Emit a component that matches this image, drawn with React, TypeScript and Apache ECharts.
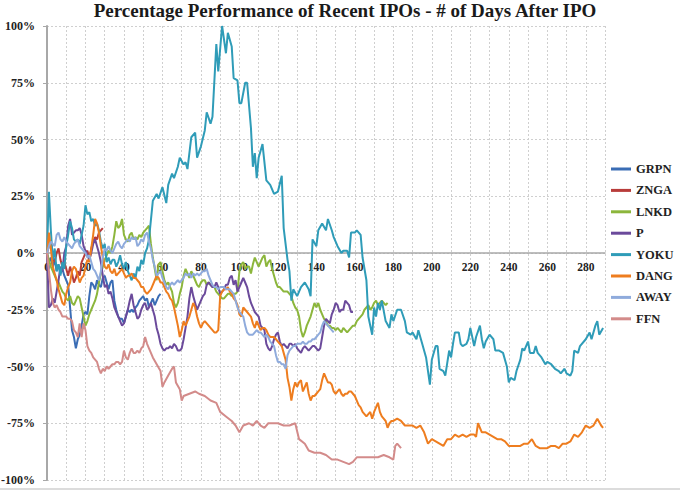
import React, { useEffect, useRef } from "react";
import * as echarts from "echarts";

const TITLE = "Percentage Performance of Recent IPOs - # of Days After IPO";
const SERIES_NAMES = ["GRPN", "ZNGA", "LNKD", "P", "YOKU", "DANG", "AWAY", "FFN"];
const COLORS = ["#3a6db5", "#b83c3a", "#8cb63c", "#6b4a9b", "#2f9cb8", "#ee7d1f", "#8fabdc", "#d38b8a"];
const X_MAX = 290;
const Y_TICKS = [-100, -75, -50, -25, 0, 25, 50, 75, 100];

type P = [number, number];

const GRPN: P[] = [[0,0],[1,-4],[2,-2],[3,-6],[4,-3],[5,-8],[6,-5],[7,-9],[8,-7],[9,-10],[10,-12],[11,-14],[12,-24],[13,-34],[14,-37],[15,-42],[16,-38],[17,-36],[18,-32],[19,-27],[20,-26],[21,-27],[22,-19],[23,-13],[24,-14],[25,-16],[26,-12],[27,-14],[28,-15],[29,-11],[30,-10],[31,-13],[32,-16],[33,-13],[34,-12],[35,-21],[36,-25],[37,-28],[38,-29],[39,-29],[40,-31],[41,-28],[42,-25],[43,-26],[44,-25],[45,-26],[46,-24],[47,-23],[48,-21],[49,-20],[50,-19],[51,-21],[52,-20],[53,-24],[54,-22],[55,-20],[56,-23],[57,-21],[58,-19],[59,-18]];

const ZNGA: P[] = [[0,0],[1,3],[2,5],[3,-2],[4,-4],[5,0],[6,2],[7,-3],[8,-6],[9,-4],[10,-7],[11,-10],[12,-6],[13,-9],[14,-13],[15,-11],[16,-8],[17,-10],[18,-4],[19,-2],[20,0],[21,1],[22,-3],[23,2],[24,5],[25,7],[26,6],[27,9],[28,10],[29,11]];

const LNKD: P[] = [[0,0],[1,-3],[2,-6],[3,-8],[4,-10],[5,-12],[6,-13],[7,-15],[8,-17],[9,-18],[10,-20],[11,-21],[12,-19],[13,-22],[14,-23],[15,-21],[16,-19],[17,-20],[18,-24],[19,-28],[20,-32],[21,-30],[22,-27],[23,-25],[24,-23],[25,-21],[26,-18],[27,-13],[28,-9],[29,-6],[30,-3],[31,-1],[32,1],[33,0],[34,3],[35,8],[36,14],[37,11],[38,12],[39,15],[40,8],[41,6],[42,5],[43,8],[44,9],[45,6],[46,7],[47,6],[48,8],[49,7],[50,9],[51,10],[52,11],[53,12],[54,4],[55,-2],[56,-7],[57,-12],[58,-5],[59,-4],[60,-8],[61,-12],[62,-14],[63,-13],[64,-15],[65,-17],[66,-22],[67,-24],[68,-22],[69,-18],[70,-15],[71,-10],[72,-7],[73,-9],[74,-11],[75,-8],[76,-10],[77,-12],[78,-14],[79,-15],[80,-13],[81,-12],[82,-12],[83,-14],[84,-13],[85,-14],[86,-15],[87,-15],[88,-17],[89,-18],[90,-19],[91,-20],[92,-20],[93,-19],[94,-18],[95,-18],[96,-19],[97,-18],[98,-18],[99,-17],[100,-8],[101,-5],[102,-4],[103,-7],[104,-6],[105,-6],[106,-9],[107,-5],[108,-2],[109,-4],[110,-6],[111,-4],[112,-2],[113,-1],[114,-6],[115,-4],[116,-3],[117,-7],[118,-10],[119,-13],[120,-15],[121,-15],[122,-16],[123,-17],[124,-17],[125,-17],[126,-18],[127,-19],[128,-22],[129,-24],[130,-25],[131,-28],[132,-34],[133,-37],[134,-35],[135,-32],[136,-30],[137,-28],[138,-25],[139,-22],[140,-24],[141,-22],[142,-25],[143,-27],[144,-29],[145,-30],[146,-32],[147,-32],[148,-33],[149,-33],[150,-34],[151,-33],[152,-34],[153,-35],[154,-33],[155,-34],[156,-35],[157,-34],[158,-33],[159,-32],[160,-32],[161,-30],[162,-29],[163,-28],[164,-27],[165,-25],[166,-24],[167,-23],[168,-25],[169,-24],[170,-22],[171,-21],[172,-23],[173,-22],[174,-21],[175,-22],[176,-23],[177,-22]];

const PNDR: P[] = [[0,0],[1,-24],[2,-23],[3,-20],[4,-22],[5,-17],[6,-12],[7,-6],[8,-8],[9,0],[10,3],[11,12],[12,15],[13,8],[14,9],[15,10],[16,10],[17,11],[18,8],[19,3],[20,1],[21,-1],[22,-3],[23,0],[24,4],[25,6],[26,3],[27,0],[28,-4],[29,-10],[30,-15],[31,-14],[32,-18],[33,-17],[34,-20],[35,-24],[36,-26],[37,-28],[38,-30],[39,-32],[40,-31],[41,-28],[42,-25],[43,-21],[44,-18],[45,-23],[46,-26],[47,-29],[48,-28],[49,-25],[50,-23],[51,-22],[52,-25],[53,-24],[54,-22],[55,-25],[56,-28],[57,-33],[58,-36],[59,-40],[60,-42],[61,-43],[62,-42],[63,-42],[64,-41],[65,-42],[66,-40],[67,-41],[68,-43],[69,-43],[70,-42],[71,-38],[72,-33],[73,-28],[74,-20],[75,-15],[76,-19],[77,-22],[78,-25],[79,-23],[80,-21],[81,-19],[82,-18],[83,-14],[84,-13],[85,-14],[86,-15],[87,-15],[88,-13],[89,-15],[90,-18],[91,-17],[92,-16],[93,-14],[94,-14],[95,-11],[96,-10],[97,-14],[98,-12],[99,-17],[100,-15],[101,-13],[102,-11],[103,-13],[104,-15],[105,-19],[106,-22],[107,-24],[108,-26],[109,-27],[110,-28],[111,-32],[112,-33],[113,-34],[114,-40],[115,-42],[116,-43],[117,-41],[118,-38],[119,-36],[120,-35],[121,-39],[122,-41],[123,-40],[124,-41],[125,-42],[126,-40],[127,-40],[128,-41],[129,-40],[130,-42],[131,-43],[132,-44],[133,-42],[134,-41],[135,-42],[136,-43],[137,-42],[138,-41],[139,-41],[140,-42],[141,-43],[142,-42],[143,-37],[144,-32],[145,-29],[146,-30],[147,-31],[148,-27],[149,-25],[150,-22],[151,-23],[152,-26],[153,-25],[154,-25],[155,-21],[156,-22],[157,-23],[158,-26],[159,-26]];

const YOKU: P[] = [[0,0],[1,27],[2,10],[3,-3],[4,2],[5,-8],[6,-5],[7,-10],[8,-4],[9,-7],[10,3],[11,8],[12,14],[13,11],[14,6],[15,5],[16,6],[17,4],[18,8],[19,12],[20,21],[21,17],[22,18],[23,14],[24,15],[25,12],[26,13],[27,10],[28,5],[29,2],[30,4],[31,-4],[32,-2],[33,-5],[34,-3],[35,-3],[36,-6],[37,-4],[38,-1],[39,-5],[40,-7],[41,-4],[42,-8],[43,-10],[44,-12],[45,-9],[46,-11],[47,-6],[48,-8],[49,-3],[50,-5],[51,0],[52,2],[53,6],[55,23],[57,26],[58,24],[60,29],[62,22],[63,30],[65,35],[66,33],[68,38],[69,42],[71,39],[72,40],[73,37],[75,51],[77,53],[78,42],[80,47],[82,54],[83,62],[85,57],[86,60],[88,92],[89,80],[91,100],[93,88],[94,97],[96,91],[97,77],[99,76],[100,66],[101,66],[103,75],[104,75],[106,55],[107,38],[108,44],[109,33],[110,42],[112,48],[114,32],[116,30],[118,26],[120,27],[122,34],[123,11],[125,-3],[126,-8],[127,-21],[128,-16],[130,-19],[132,-15],[134,-13],[136,-16],[137,-19],[138,6],[140,3],[141,10],[143,13],[145,10],[146,15],[148,10],[149,7],[151,3],[153,0],[154,1],[156,1],[157,-2],[158,9],[160,9],[161,10],[163,8],[164,-2],[166,-12],[167,-28],[169,-36],[170,-24],[171,-28],[172,-22],[173,-25],[174,-21],[176,-30],[178,-33],[179,-27],[180,-30],[182,-25],[184,-25],[186,-30],[187,-35],[189,-36],[190,-35],[192,-38],[193,-34],[195,-40],[197,-46],[199,-58],[200,-47],[202,-41],[203,-41],[204,-51],[206,-52],[207,-54],[209,-43],[210,-46],[211,-40],[212,-35],[214,-35],[215,-40],[216,-41],[218,-40],[219,-38],[220,-33],[222,-41],[223,-37],[225,-32],[226,-38],[227,-42],[228,-39],[230,-36],[232,-38],[233,-43],[235,-43],[237,-44],[239,-50],[240,-57],[241,-55],[243,-56],[244,-52],[246,-47],[247,-42],[248,-43],[250,-39],[251,-44],[253,-44],[254,-41],[255,-44],[257,-46],[259,-49],[260,-48],[262,-49],[264,-51],[266,-52],[267,-53],[269,-51],[270,-53],[272,-54],[273,-52],[274,-43],[276,-44],[277,-41],[280,-38],[282,-35],[283,-38],[285,-32],[286,-30],[287,-36],[289,-33]];

const DANG: P[] = [[0,0],[1,9],[2,2],[3,-6],[4,-9],[5,-12],[6,-16],[7,-19],[8,-22],[9,-23],[10,-18],[11,-15],[12,-13],[13,-8],[14,-6],[15,-7],[16,-10],[17,-13],[18,-11],[19,-10],[20,-6],[21,-3],[22,-4],[23,2],[24,8],[25,15],[26,13],[27,9],[28,3],[29,-2],[30,-6],[31,-7],[32,-5],[33,-8],[34,-9],[35,-7],[36,-10],[37,-9],[38,-8],[39,-7],[40,-9],[41,-11],[42,-10],[43,-10],[44,-9],[45,-11],[46,-11],[47,-12],[48,-13],[49,-15],[50,-15],[51,-17],[52,-18],[53,-17],[54,-16],[55,-14],[56,-12],[57,-10],[58,-11],[59,-13],[60,-13],[61,-15],[62,-17],[63,-18],[64,-20],[65,-21],[66,-24],[67,-28],[68,-32],[69,-37],[70,-34],[71,-30],[72,-32],[73,-30],[74,-28],[75,-25],[76,-22],[77,-24],[78,-28],[79,-31],[80,-33],[81,-31],[82,-30],[83,-31],[84,-32],[85,-33],[86,-34],[87,-35],[88,-35],[89,-34],[90,-19],[91,-17],[92,-16],[93,-16],[94,-15],[95,-17],[96,-18],[97,-20],[98,-21],[99,-23],[100,-27],[101,-28],[102,-24],[103,-25],[104,-26],[105,-27],[106,-28],[107,-31],[108,-33],[109,-30],[110,-32],[111,-34],[112,-33],[113,-33],[114,-34],[115,-36],[116,-37],[117,-37],[118,-37],[119,-38],[120,-39],[121,-40],[122,-41],[123,-44],[124,-47],[125,-55],[126,-59],[127,-65],[128,-60],[129,-57],[130,-59],[131,-57],[132,-56],[133,-61],[134,-59],[135,-57],[136,-62],[137,-65],[138,-63],[139,-63],[140,-62],[141,-61],[142,-60],[143,-56],[144,-53],[145,-55],[146,-57],[147,-57],[148,-58],[149,-61],[150,-62],[151,-61],[152,-60],[153,-62],[154,-63],[155,-62],[156,-62],[157,-61],[158,-61],[159,-62],[160,-63],[161,-65],[162,-67],[163,-68],[164,-70],[165,-71],[166,-72],[167,-71],[168,-70],[169,-73],[170,-70],[171,-68],[172,-66],[173,-70],[174,-72],[175,-73],[176,-74],[177,-77],[178,-75],[179,-74],[180,-74],[182,-73],[184,-74],[186,-76],[188,-76],[190,-76],[192,-77],[194,-76],[196,-79],[198,-84],[200,-82],[202,-83],[204,-84],[206,-85],[208,-82],[210,-82],[212,-80],[214,-81],[216,-80],[218,-81],[220,-80],[222,-80],[223,-81],[224,-75],[226,-79],[228,-79],[230,-80],[232,-81],[234,-82],[236,-82],[238,-83],[240,-85],[242,-85],[244,-85],[246,-85],[248,-84],[250,-84],[252,-82],[254,-85],[256,-86],[258,-86],[260,-86],[262,-85],[264,-85],[266,-86],[268,-84],[270,-84],[272,-83],[274,-80],[276,-81],[278,-79],[280,-76],[282,-77],[284,-76],[286,-73],[288,-76],[289,-77]];

const AWAY: P[] = [[0,0],[1,3],[2,5],[3,4],[4,3],[5,8],[6,9],[7,6],[8,5],[9,7],[10,5],[11,4],[12,3],[13,2],[14,4],[15,5],[16,6],[17,3],[18,2],[19,1],[20,0],[21,-2],[22,-1],[23,-4],[24,-7],[25,-8],[26,-10],[27,-12],[28,-8],[29,-2],[30,2],[31,1],[32,3],[33,1],[34,0],[35,2],[36,4],[37,5],[38,3],[39,2],[40,4],[41,5],[42,6],[43,5],[44,7],[45,6],[46,7],[47,3],[48,4],[49,6],[50,5],[51,8],[52,9],[53,5],[54,2],[55,-3],[56,-6],[57,-10],[58,-9],[59,-8],[60,-11],[61,-13],[62,-15],[63,-16],[64,-14],[65,-13],[66,-14],[67,-13],[68,-12],[69,-13],[70,-12],[71,-11],[72,-9],[73,-10],[74,-9],[75,-11],[76,-9],[77,-10],[78,-9],[79,-10],[80,-9],[81,-8],[82,-8],[83,-7],[84,-10],[85,-12],[86,-14],[87,-15],[88,-15],[89,-16],[90,-15],[91,-15],[92,-15],[93,-16],[94,-16],[95,-16],[96,-17],[97,-18],[98,-21],[99,-24],[100,-26],[101,-27],[102,-28],[103,-32],[104,-35],[105,-36],[106,-36],[107,-36],[108,-35],[109,-34],[110,-35],[111,-35],[112,-36],[113,-37],[114,-36],[115,-37],[116,-39],[117,-40],[118,-41],[119,-45],[120,-48],[121,-48],[122,-49],[123,-49],[124,-51],[125,-45],[126,-43],[127,-42],[128,-41],[129,-41],[130,-40],[131,-40],[132,-40],[133,-39],[134,-40],[135,-40],[136,-39],[137,-39],[138,-38],[139,-38],[140,-37],[141,-36],[142,-35],[143,-32],[144,-30],[145,-31],[146,-32],[147,-33],[148,-34],[149,-35]];

const FFN: P[] = [[0,0],[1,-8],[2,-16],[3,-22],[4,-24],[5,-23],[6,-25],[7,-26],[8,-28],[9,-28],[10,-28],[11,-29],[12,-29],[13,-30],[14,-34],[15,-35],[16,-37],[17,-31],[18,-37],[19,-31],[20,-34],[21,-41],[22,-43],[23,-44],[24,-46],[25,-47],[26,-48],[27,-51],[28,-53],[29,-51],[30,-52],[31,-50],[32,-51],[33,-50],[34,-49],[35,-49],[36,-48],[37,-48],[38,-49],[39,-48],[40,-43],[41,-46],[42,-47],[43,-44],[44,-42],[45,-44],[46,-44],[47,-43],[48,-44],[49,-42],[50,-41],[51,-37],[52,-40],[53,-42],[54,-44],[55,-46],[57,-49],[59,-52],[60,-59],[61,-57],[63,-54],[65,-51],[66,-50],[67,-57],[69,-60],[70,-65],[71,-63],[74,-62],[77,-61],[79,-62],[82,-63],[85,-65],[88,-66],[90,-70],[93,-72],[96,-74],[98,-76],[100,-79],[102,-76],[105,-75],[107,-76],[109,-74],[111,-76],[113,-77],[115,-75],[117,-75],[120,-75],[123,-76],[126,-76],[129,-75],[131,-82],[134,-84],[136,-87],[139,-88],[142,-88],[145,-89],[148,-91],[151,-91],[154,-92],[157,-93],[159,-92],[161,-90],[164,-90],[167,-90],[169,-90],[172,-90],[175,-89],[178,-90],[180,-91],[181,-85],[182,-84],[184,-86]];

const SERIES_DATA: P[][] = [GRPN, ZNGA, LNKD, PNDR, YOKU, DANG, AWAY, FFN];

const FONT = "'Liberation Serif', 'DejaVu Serif', serif";
const GRID_TOP = 26;
const GRID_BOTTOM = 13;
const CHART_H = 493;

export default function App() {
  const ref = useRef<HTMLDivElement>(null);
  useEffect(() => {
    if (!ref.current) return;
    const chart = echarts.init(ref.current, undefined, { renderer: "svg" });
    const gridH = CHART_H - GRID_TOP - GRID_BOTTOM;
    chart.setOption({
      animation: false,
      backgroundColor: "#ffffff",
      title: {
        text: TITLE,
        left: 345,
        textAlign: "center",
        top: 1,
        padding: 0,
        textStyle: { fontFamily: FONT, fontSize: 19, fontWeight: "bold", color: "#1a1a1a" },
      },
      legend: {
        orient: "vertical",
        left: 611,
        top: 162,
        padding: 0,
        icon: "rect",
        itemWidth: 20,
        itemHeight: 3,
        itemGap: 7.4,
        itemTextGap: 2,
        data: SERIES_NAMES,
        textStyle: { fontFamily: FONT, fontSize: 12.5, fontWeight: "bold", color: "#222", lineHeight: 14 },
      },
      grid: { left: 47, right: 75, top: GRID_TOP, bottom: GRID_BOTTOM, containLabel: false, outerBoundsMode: "none" },
      xAxis: {
        type: "value",
        min: 0,
        max: X_MAX,
        interval: 10,
        position: "bottom",
        offset: -gridH / 2,
        axisLine: { onZero: false, lineStyle: { color: "#a8a8a8", width: 1.5 } },
        axisTick: { show: false },
        axisLabel: {
          margin: 8,
          fontFamily: FONT,
          fontSize: 11.5,
          fontWeight: "bold",
          color: "#222",
          showMaxLabel: false,
          formatter: (v: number) => (v % 20 === 0 ? String(v) : ""),
        },
        splitLine: { show: true, lineStyle: { color: "#cfcfcf", type: [2, 2], width: 1 } },
      },
      yAxis: {
        type: "value",
        min: Y_TICKS[0],
        max: Y_TICKS[Y_TICKS.length - 1],
        interval: 25,
        axisLine: { show: true, lineStyle: { color: "#a8a8a8", width: 2 } },
        axisTick: { show: true, length: 4, lineStyle: { color: "#a8a8a8" } },
        axisLabel: {
          margin: 12,
          fontFamily: FONT,
          fontSize: 12,
          fontWeight: "bold",
          color: "#222",
          formatter: (v: number) => `${v}%`,
        },
        splitLine: { show: true, lineStyle: { color: "#cfcfcf", type: [2, 2], width: 1 } },
      },
      graphic: [
        { type: "line", shape: { x1: 0, y1: 489, x2: 680, y2: 489 }, style: { stroke: "#d0d0d0", lineWidth: 1.5 } },
      ],
      series: SERIES_NAMES.map((name, i) => ({
        name,
        type: "line",
        data: SERIES_DATA[i],
        showSymbol: false,
        symbol: "none",
        color: COLORS[i],
        lineStyle: { width: 2, color: COLORS[i] },
      })),
    });
    return () => chart.dispose();
  }, []);
  return <div ref={ref} style={{ position: "absolute", left: 0, top: 0, width: 680, height: 493 }} />;
}
